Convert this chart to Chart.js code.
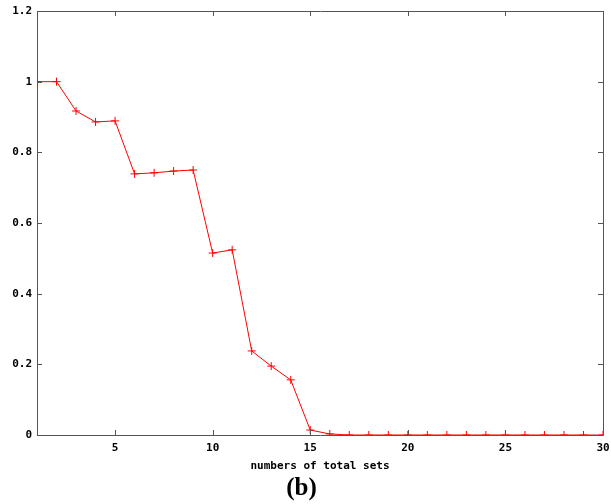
<!DOCTYPE html>
<html><head><meta charset="utf-8">
<script src="https://cdn.jsdelivr.net/npm/chart.js@4/dist/chart.umd.min.js"></script>
<style>html,body{margin:0;padding:0;background:#fff}#wrap{width:611px;height:504px;position:relative}</style>
</head><body><div id="wrap"><canvas id="c"></canvas></div>
<script>
const xValues = [1,2,3,4,5,6,7,8,9,10,11,12,13,14,15,16,17,18,19,20,21,22,23,24,25,26,27,28,29,30];
const yValues = [1.0,1.0,0.917,0.886,0.889,0.739,0.742,0.747,0.750,0.515,0.524,0.238,0.195,0.156,0.014,0.003,0,0,0,0,0,0,0,0,0,0,0,0,0,0];
const xTickValues = [5,10,15,20,25,30];
const yTickValues = [0,0.2,0.4,0.6,0.8,1,1.2];
const xTitle = 'numbers of total sets';
const caption = '(b)';

const tickFont = {family: '"DejaVu Sans Mono", monospace', size: 11, weight: 'bold'};

const frame = {
  id: 'frame',
  afterDraw(chart) {
    const {ctx, chartArea: a, scales: {x, y}} = chart;
    ctx.save();
    ctx.strokeStyle = '#555';
    ctx.lineWidth = 1;
    ctx.beginPath();
    ctx.rect(Math.round(a.left) + 0.5, Math.round(a.top) + 0.5, Math.round(a.right - a.left), Math.round(a.bottom - a.top));
    const L = 5;
    xTickValues.forEach(v => {
      const px = Math.round(x.getPixelForValue(v)) + 0.5;
      ctx.moveTo(px, a.bottom); ctx.lineTo(px, a.bottom - L);
      ctx.moveTo(px, a.top); ctx.lineTo(px, a.top + L);
    });
    yTickValues.forEach(v => {
      const py = Math.round(y.getPixelForValue(v)) + 0.5;
      ctx.moveTo(a.left, py); ctx.lineTo(a.left + L, py);
      ctx.moveTo(a.right, py); ctx.lineTo(a.right - L, py);
    });
    ctx.stroke();
    ctx.restore();
  }
};

new Chart(document.getElementById('c'), {
  type: 'line',
  data: {
    datasets: [{
      data: xValues.map((v, i) => ({x: v, y: yValues[i]})),
      borderColor: 'rgb(255,0,0)',
      backgroundColor: 'rgb(255,0,0)',
      borderWidth: 1,
      pointStyle: 'cross',
      pointRadius: 4,
      pointBorderWidth: 1,
      pointBorderColor: 'rgb(255,0,0)',
      tension: 0
    }]
  },
  options: {
    responsive: true,
    maintainAspectRatio: false,
    animation: false,
    layout: {padding: {left: 0, right: 8, top: 11, bottom: 0}},
    plugins: {
      legend: {display: false},
      tooltip: {enabled: false},
      title: {
        display: true,
        position: 'bottom',
        text: caption,
        color: '#000',
        font: {family: '"Liberation Serif", "Times New Roman", serif', size: 25, weight: 'bold', lineHeight: 1.2},
        padding: {top: 0, bottom: 0}
      }
    },
    scales: {
      x: {
        type: 'linear',
        min: 1, max: 30,
        afterBuildTicks: s => { s.ticks = xTickValues.map(v => ({value: v})); },
        afterFit: s => { s.height = 39; s.paddingLeft = 0; s.paddingRight = 0; },
        grid: {display: false, drawTicks: false},
        border: {display: false},
        ticks: {font: tickFont, color: '#000', padding: 7, maxRotation: 0, autoSkip: false, callback: v => String(v)},
        title: {display: true, text: xTitle, color: '#000', font: {family: '"DejaVu Sans Mono", monospace', size: 11, weight: 'bold', lineHeight: 1.2}, padding: {top: 0, bottom: 1}}
      },
      y: {
        type: 'linear',
        min: 0, max: 1.2,
        afterBuildTicks: s => { s.ticks = yTickValues.map(v => ({value: v})); },
        afterFit: s => { s.width = 37; s.paddingTop = 0; s.paddingBottom = 0; },
        grid: {display: false, drawTicks: false},
        border: {display: false},
        ticks: {font: tickFont, color: '#000', padding: 5, callback: v => String(v)}
      }
    }
  },
  plugins: [frame]
});
</script>
</body></html>
